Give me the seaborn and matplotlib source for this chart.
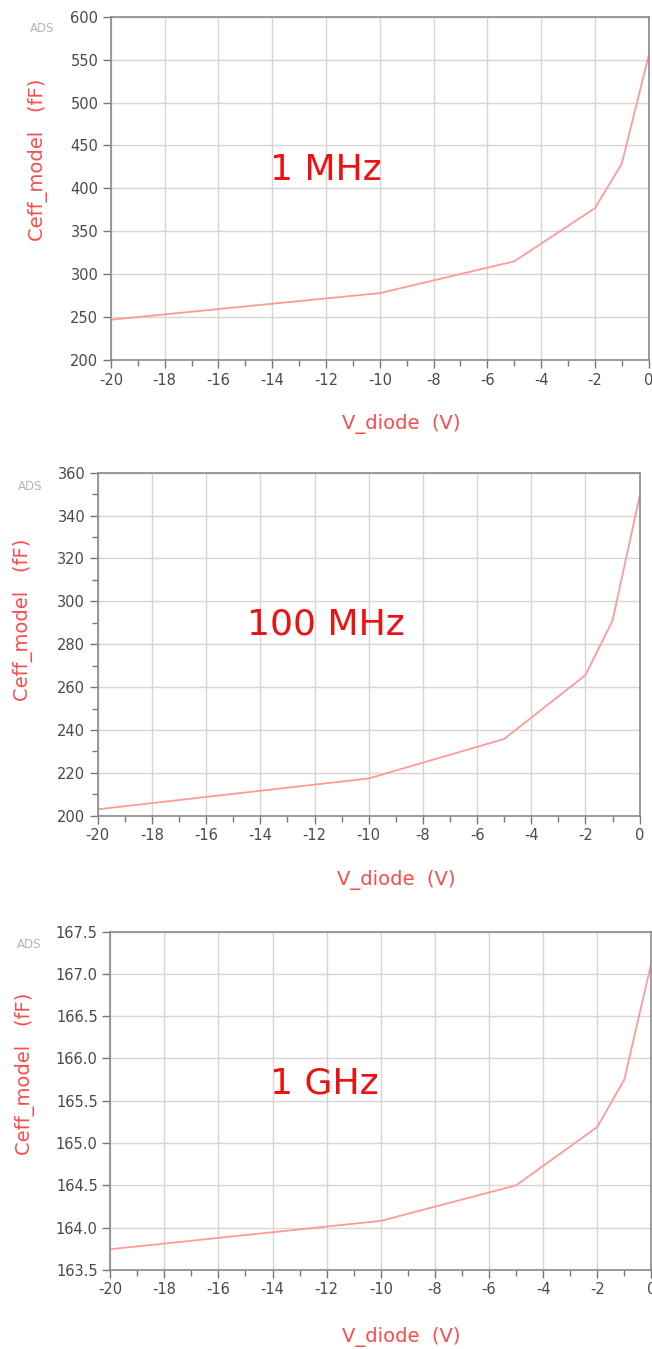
import matplotlib
matplotlib.use("Agg")
import matplotlib.pyplot as plt
import seaborn as sns
import pandas as pd
from matplotlib.ticker import MultipleLocator

# ---- data ----
v_diode = [-20, -10, -5, -2, -1, 0]
ceff_1mhz = [247, 278, 315, 377, 429, 555]
ceff_100mhz = [203, 217.4, 235.8, 265.6, 291, 349]
ceff_1ghz = [163.745, 164.08, 164.5, 165.19, 165.75, 167.13]
labels = ["1 MHz", "100 MHz", "1 GHz"]
series = [ceff_1mhz, ceff_100mhz, ceff_1ghz]
ylims = [(200, 600), (200, 360), (163.5, 167.5)]
ymajor = [50, 20, 0.5]
yminor = [None, 10, None]
ylabel_fmt = ["{:.0f}", "{:.0f}", "{:.1f}"]
text_pos = [(-12.0, 421), (-11.6, 289), (-12.1, 165.7)]
x_ticks = list(range(-20, 1, 2))

sns.set_theme(style="whitegrid")
plt.rcParams['font.family'] = ['DejaVu Sans']

fig = plt.figure(figsize=(6.52, 13.49), dpi=100)
rects = [
    [0.170, 0.7331, 0.825, 0.2545],
    [0.150, 0.3953, 0.831, 0.2543],
    [0.169, 0.0586, 0.830, 0.2508],
]
xlab_coords = [(0.539, -0.158), (0.55, -0.158), (0.538, -0.168)]
ylab_coords = [(-0.117, 0.583), (-0.12, 0.571), (-0.139, 0.58)]
ads_coords = [(-0.104, 0.985), (-0.103, 0.98), (-0.128, 0.982)]
red = "#ff4a4a"
line_col = "#ff9a9a"
tick_col = "#4a4a4a"

for i, rect in enumerate(rects):
    ax = fig.add_axes(rect)
    df = pd.DataFrame({"V_diode": v_diode, "Ceff": series[i]})
    sns.lineplot(data=df, x="V_diode", y="Ceff", ax=ax, color=line_col, lw=1.3)
    ax.set_xlim(-20, 0)
    ax.set_ylim(*ylims[i])
    ax.set_xticks(x_ticks)
    ax.xaxis.set_minor_locator(MultipleLocator(1))
    ax.yaxis.set_major_locator(MultipleLocator(ymajor[i]))
    if yminor[i]:
        ax.yaxis.set_minor_locator(MultipleLocator(yminor[i]))
    ax.set_yticks(ax.get_yticks())
    ax.set_yticklabels([ylabel_fmt[i].format(t) for t in ax.get_yticks()])
    ax.set_ylim(*ylims[i])
    ax.set_xticklabels([str(t) for t in x_ticks])
    ax.grid(True, which="major", color="#d6d6d6", lw=1.0)
    ax.grid(False, which="minor")
    ax.set_facecolor("white")
    for s in ["top", "right", "left", "bottom"]:
        ax.spines[s].set_visible(True)
        ax.spines[s].set_color("#8a8a8a")
        ax.spines[s].set_linewidth(1.2)
    ax.tick_params(axis="both", which="major", direction="out", length=6, width=1,
                   color="#777777", labelcolor=tick_col, labelsize=10.5, pad=3,
                   bottom=True, left=True)
    ax.tick_params(axis="both", which="minor", direction="out", length=4, width=1,
                   color="#777777", bottom=True, left=True)
    ax.set_xlabel("V_diode  (V)", color=red, fontsize=14)
    ax.set_ylabel("Ceff_model   (fF)", color=red, fontsize=14)
    ax.xaxis.set_label_coords(*xlab_coords[i])
    ax.yaxis.set_label_coords(*ylab_coords[i])
    ax.text(text_pos[i][0], text_pos[i][1], labels[i], color="#ee1111",
            fontsize=26, ha="center", va="center")
    ax.text(ads_coords[i][0], ads_coords[i][1], "ADS", transform=ax.transAxes,
            color="#b5b5b5", fontsize=8.5, ha="right", va="top")

fig.savefig("out.png", dpi=100, facecolor="white")
